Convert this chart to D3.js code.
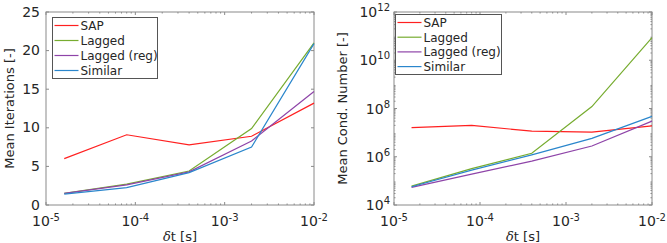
<!DOCTYPE html>
<html><head><meta charset="utf-8">
<script src="https://cdn.jsdelivr.net/npm/d3@7"></script>
<style>
body{margin:0;background:#fff;}
svg{display:block;font-family:"DejaVu Sans",sans-serif;}
</style></head>
<body><div id="chart"></div>
<script>
const dt = [1.6e-5, 8e-5, 4e-4, 2e-3, 1e-2];
const seriesNames = ["SAP", "Lagged", "Lagged (reg)", "Similar"];
const seriesColors = ["#ff2020", "#77ac30", "#8e44a8", "#2a86cc"];
const iterSAP = [6.0, 9.1, 7.8, 8.9, 13.2];
const iterLagged = [1.5, 2.7, 4.4, 9.9, 21.0];
const iterLaggedReg = [1.5, 2.6, 4.3, 8.3, 14.7];
const iterSimilar = [1.4, 2.25, 4.2, 7.5, 20.9];
const condSAP = [1.6e7, 2.0e7, 1.15e7, 1.05e7, 1.9e7];
const condLagged = [6.1e4, 3.2e5, 1.4e6, 1.2e8, 8.7e10];
const condLaggedReg = [5.4e4, 1.9e5, 6.6e5, 2.8e6, 3.0e7];
const condSimilar = [5.7e4, 2.8e5, 1.2e6, 5.8e6, 4.7e7];
const xTickExps = [-5, -4, -3, -2];
const yTicksLeft = [0, 5, 10, 15, 20, 25];
const yTickExpsRight = [4, 6, 8, 10, 12];

const W = 667, H = 243;
const svg = d3.select("#chart").append("svg").attr("width", W).attr("height", H);
const txtCol = "#262626", boxCol = "#8a8a8a";

function panel(opts) {
  const {x0, x1, y0, y1, yScaleType, yDomain, series, ylabel, legend} = opts;
  const g = svg.append("g");
  const x = d3.scaleLog().domain([1e-5, 1e-2]).range([x0, x1]);
  const y = (yScaleType === "log" ? d3.scaleLog() : d3.scaleLinear()).domain(yDomain).range([y1, y0]);

  g.append("rect").attr("x", x0).attr("y", y0).attr("width", x1 - x0).attr("height", y1 - y0)
    .attr("fill", "none").attr("stroke", boxCol).attr("stroke-width", 1);

  const xMinor = [];
  for (let e = -5; e < -2; e++) for (let m = 2; m <= 9; m++) xMinor.push(m * Math.pow(10, e));
  xMinor.forEach(v => {
    [[y1, -1.5], [y0, 1.5]].forEach(([yy, d]) => g.append("line").attr("x1", x(v)).attr("x2", x(v))
      .attr("y1", yy).attr("y2", yy + d).attr("stroke", boxCol).attr("stroke-width", 1));
  });
  xTickExps.forEach(e => {
    const v = Math.pow(10, e);
    [[y1, -3], [y0, 3]].forEach(([yy, d]) => g.append("line").attr("x1", x(v)).attr("x2", x(v))
      .attr("y1", yy).attr("y2", yy + d).attr("stroke", boxCol).attr("stroke-width", 1));
    const t = g.append("text").attr("x", x(v)).attr("y", y1 + 21).attr("text-anchor", "middle")
      .attr("fill", txtCol).attr("font-size", 14);
    t.append("tspan").text("10");
    t.append("tspan").attr("dy", -5).attr("font-size", 10).text("-" + (-e));
  });
  const xl = g.append("text").attr("x", (x0 + x1) / 2).attr("y", y1 + 36).attr("text-anchor", "middle")
    .attr("fill", txtCol).attr("font-size", 13);
  xl.append("tspan").attr("font-family", "'DejaVu Serif',serif").attr("font-style", "italic").text("δ");
  xl.append("tspan").text("t [s]");

  if (yScaleType === "log") {
    for (let e = 4; e < 12; e++) for (let m = 2; m <= 9; m++) {
      const v = m * Math.pow(10, e);
      [[x0, 1.5], [x1, -1.5]].forEach(([xx, d]) => g.append("line").attr("x1", xx).attr("x2", xx + d)
        .attr("y1", y(v)).attr("y2", y(v)).attr("stroke", boxCol).attr("stroke-width", 1));
    }
    yTickExpsRight.forEach(e => {
      const v = Math.pow(10, e);
      [[x0, 3], [x1, -3]].forEach(([xx, d]) => g.append("line").attr("x1", xx).attr("x2", xx + d)
        .attr("y1", y(v)).attr("y2", y(v)).attr("stroke", boxCol).attr("stroke-width", 1));
      const t = g.append("text").attr("x", x0 - 4).attr("y", y(v) + 5).attr("text-anchor", "end")
        .attr("fill", txtCol).attr("font-size", 14);
      t.append("tspan").text("10");
      t.append("tspan").attr("dy", -6).attr("font-size", 10).text(e);
    });
  } else {
    yTicksLeft.forEach(v => {
      [[x0, 3], [x1, -3]].forEach(([xx, d]) => g.append("line").attr("x1", xx).attr("x2", xx + d)
        .attr("y1", y(v)).attr("y2", y(v)).attr("stroke", boxCol).attr("stroke-width", 1));
      g.append("text").attr("x", x0 - 6).attr("y", y(v) + 4.5).attr("text-anchor", "end")
        .attr("fill", txtCol).attr("font-size", 14).text(v);
    });
  }
  g.append("text").attr("transform", `translate(${opts.ylabelX},${(y0 + y1) / 2}) rotate(-90)`)
    .attr("text-anchor", "middle").attr("fill", txtCol).attr("font-size", 13).text(ylabel);

  const line = d3.line().x((d, i) => x(dt[i])).y(d => y(d));
  series.forEach((s, i) => {
    g.append("path").datum(s).attr("d", line).attr("fill", "none")
      .attr("stroke", seriesColors[i]).attr("stroke-width", 1.2);
  });

  const L = legend;
  g.append("rect").attr("x", L.x).attr("y", L.y).attr("width", L.w).attr("height", L.h)
    .attr("fill", "#fff").attr("stroke", "#555").attr("stroke-width", 1);
  seriesNames.forEach((n, i) => {
    const yy = L.y + L.first + i * L.step;
    g.append("line").attr("x1", L.x + 2).attr("x2", L.x + 26).attr("y1", yy).attr("y2", yy)
      .attr("stroke", seriesColors[i]).attr("stroke-width", 1.2);
    g.append("text").attr("x", L.x + 28).attr("y", yy + 4.5).attr("fill", txtCol)
      .attr("font-size", 12).text(n);
  });
}

panel({x0: 46, x1: 314, y0: 12, y1: 205, yScaleType: "lin", yDomain: [0, 25],
  series: [iterSAP, iterLagged, iterLaggedReg, iterSimilar], ylabel: "Mean Iterations [-]", ylabelX: 14,
  legend: {x: 52.5, y: 17.5, w: 105, h: 61, first: 8, step: 15}});
panel({x0: 394, x1: 652, y0: 12, y1: 205, yScaleType: "log", yDomain: [1e4, 1e12],
  series: [condSAP, condLagged, condLaggedReg, condSimilar], ylabel: "Mean Cond. Number [-]", ylabelX: 347,
  legend: {x: 395.5, y: 14.5, w: 106, h: 60, first: 8, step: 14.7}});
</script></body></html>
